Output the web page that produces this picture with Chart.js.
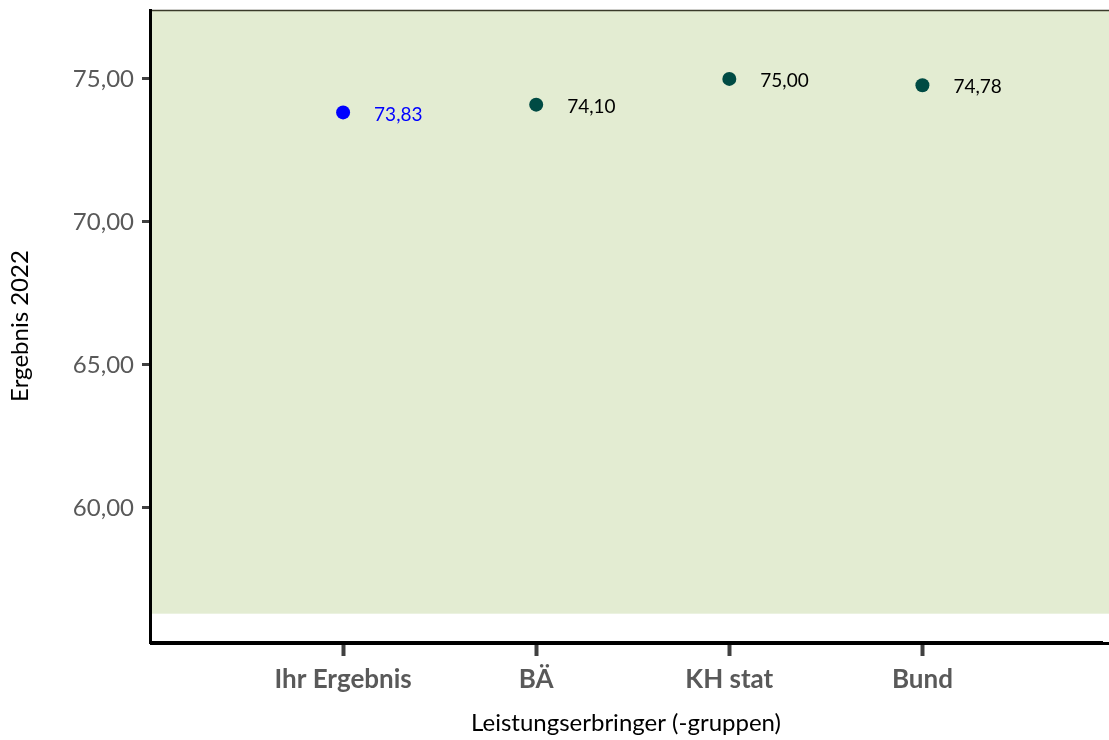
<!DOCTYPE html>
<html>
<head>
<meta charset="utf-8">
<script src="https://cdn.jsdelivr.net/npm/chart.js@4/dist/chart.umd.min.js"></script>
<style>
  html, body { margin: 0; padding: 0; background: #fff; overflow: hidden; }
  #wrap { position: absolute; left: 0; top: 0; width: 1109px; height: 740px; }
  #chart { display: block; }
</style>
</head>
<body>
<div id="wrap"><canvas id="chart"></canvas></div>
<script>
const categories = ['Ihr Ergebnis', 'BÄ', 'KH stat', 'Bund'];
const results = [73.83, 74.10, 75.00, 74.78];
const pointColors = ['#0000ff', '#004b44', '#004b44', '#004b44'];
const labelColors = ['#0000ff', '#000000', '#000000', '#000000'];
const yTicks = [60, 65, 70, 75];
const yMin = 55.31;
const yMax = 77.41;
const bandBottom = 56.3;

const font = 'Lato, "Open Sans", sans-serif';

function fmt(v) {
  return v.toFixed(2).replace('.', ',');
}

// green background band, drawn before the axes so the axis lines stay on top
const bandPlugin = {
  id: 'band',
  beforeDraw(chart) {
    const { ctx, chartArea, scales } = chart;
    const yb = scales.y.getPixelForValue(bandBottom);
    const right = chart.width;
    ctx.save();
    ctx.fillStyle = '#e3ecd2';
    ctx.fillRect(chartArea.left, chartArea.top, right - chartArea.left, yb - chartArea.top);
    ctx.strokeStyle = '#3a3a2a';
    ctx.lineWidth = 1.5;
    ctx.beginPath();
    ctx.moveTo(chartArea.left, chartArea.top + 0.5);
    ctx.lineTo(right, chartArea.top + 0.5);
    ctx.stroke();
    ctx.restore();
  },
  afterDraw(chart) {
    // x axis line running to the canvas edge
    const { ctx, chartArea } = chart;
    ctx.save();
    ctx.strokeStyle = '#000';
    ctx.lineWidth = 3;
    ctx.lineCap = 'butt';
    ctx.beginPath();
    ctx.moveTo(chartArea.left, chartArea.bottom + 1.5);
    ctx.lineTo(chart.width, chartArea.bottom + 1.5);
    ctx.stroke();
    ctx.restore();
  },
};

const valueLabels = {
  id: 'valueLabels',
  afterDatasetsDraw(chart) {
    const { ctx } = chart;
    const meta = chart.getDatasetMeta(0);
    ctx.save();
    ctx.font = '19px ' + font;
    ctx.textBaseline = 'middle';
    ctx.textAlign = 'left';
    meta.data.forEach((pt, i) => {
      ctx.fillStyle = labelColors[i];
      ctx.fillText(fmt(results[i]), pt.x + 31, pt.y + 2);
    });
    ctx.restore();
  },
};

new Chart(document.getElementById('chart'), {
  type: 'scatter',
  data: {
    datasets: [
      {
        data: results.map((v, i) => ({ x: i + 1, y: v })),
        pointRadius: 7,
        pointHoverRadius: 7,
        pointBackgroundColor: pointColors,
        pointBorderColor: pointColors,
        pointBorderWidth: 0,
        clip: false,
      },
    ],
  },
  options: {
    responsive: true,
    maintainAspectRatio: false,
    animation: false,
    layout: { padding: { top: 10, right: 0, left: 0, bottom: 0 } },
    plugins: {
      legend: { display: false },
      tooltip: { enabled: false },
    },
    scales: {
      x: {
        type: 'linear',
        min: 0,
        max: 4.93,
        afterBuildTicks: (scale) => {
          scale.ticks = categories.map((c, i) => ({ value: i + 1 }));
        },
        afterFit: (scale) => {
          scale.height = 98;
          scale.paddingLeft = 0;
          scale.paddingRight = 0;
        },
        ticks: {
          callback: (value) => categories[value - 1],
          color: '#595959',
          font: { family: font, size: 26, weight: 'bold' },
          padding: 8,
          autoSkip: false,
          maxRotation: 0,
        },
        grid: {
          display: true,
          drawOnChartArea: false,
          drawTicks: true,
          tickLength: 14,
          tickWidth: 4,
          tickColor: '#404040',
        },
        border: { display: true, color: '#000', width: 3 },
        title: {
          display: true,
          text: 'Leistungserbringer (-gruppen)',
          color: '#000',
          font: { family: font, size: 24 },
          padding: { top: 4, bottom: 2 },
        },
      },
      y: {
        min: yMin,
        max: yMax,
        afterBuildTicks: (scale) => {
          scale.ticks = yTicks.map((v) => ({ value: v }));
        },
        afterFit: (scale) => {
          scale.width = 150;
          scale.paddingTop = 0;
          scale.paddingBottom = 0;
        },
        ticks: {
          callback: (value) => fmt(value),
          color: '#595959',
          font: { family: font, size: 24 },
          padding: 8,
        },
        grid: {
          display: true,
          drawOnChartArea: false,
          drawTicks: true,
          tickLength: 8,
          tickWidth: 3,
          tickColor: '#404040',
        },
        border: { display: true, color: '#000', width: 3 },
        title: {
          display: true,
          text: 'Ergebnis 2022',
          color: '#000',
          font: { family: font, size: 24 },
          padding: { top: 6, bottom: 0 },
        },
      },
    },
  },
  plugins: [bandPlugin, valueLabels],
});
</script>
</body>
</html>
